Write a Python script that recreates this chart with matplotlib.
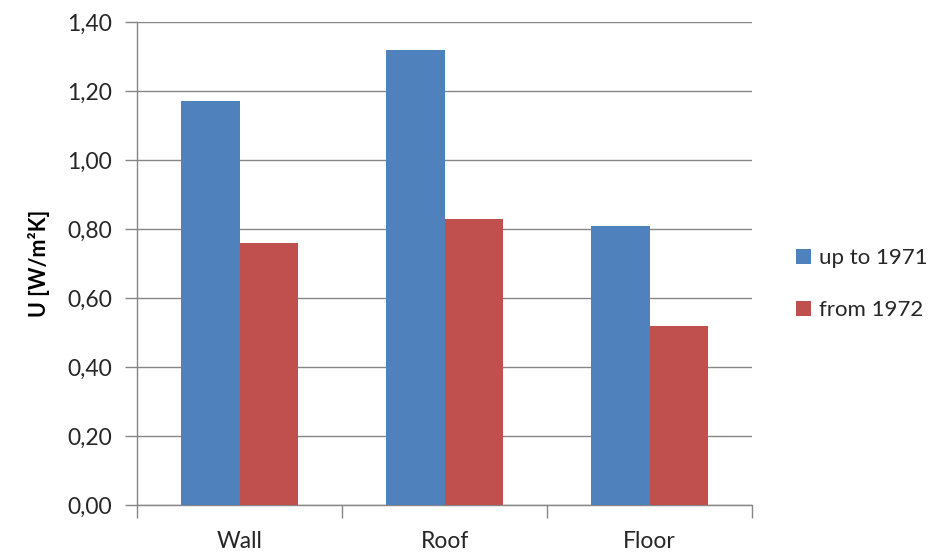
import matplotlib
matplotlib.use("Agg")
import matplotlib.pyplot as plt
from matplotlib.patches import Patch
from matplotlib.ticker import FuncFormatter, MultipleLocator
import numpy as np

categories = ["Wall", "Roof", "Floor"]
up_to_1971 = [1.17, 1.32, 0.81]
from_1972 = [0.76, 0.83, 0.52]
series_names = ["up to 1971", "from 1972"]
colors = ["#4F81BD", "#C0504D"]

plt.rcParams["font.family"] = ["Lato", "DejaVu Sans"]

fig = plt.figure(figsize=(9.35, 5.52), dpi=100)
ax = fig.add_axes([0.1465, 0.0851, 0.8575 - 0.1465 - 0.053, 0.960 - 0.0851])

x = np.arange(len(categories))
w = 1 / 3.5
ax.bar(x - w / 2, up_to_1971, width=w, color=colors[0], zorder=3)
ax.bar(x + w / 2, from_1972, width=w, color=colors[1], zorder=3)

ax.set_xlim(-0.5, len(categories) - 0.5)
ax.set_ylim(0, 1.40)
ax.yaxis.set_major_locator(MultipleLocator(0.2))
ax.yaxis.set_major_formatter(FuncFormatter(lambda v, p: f"{v:.2f}".replace(".", ",")))
ax.grid(axis="y", color="#868686", linewidth=1, zorder=0)

ax.set_xticks(np.arange(len(categories) + 1) - 0.5, minor=False)
ax.set_xticklabels([])
ax.set_xticks(x, minor=True)
ax.set_xticklabels(categories, minor=True)
ax.tick_params(axis="x", which="major", length=9, color="#868686", width=1)
ax.tick_params(axis="x", which="minor", length=0, pad=19, labelsize=16.5, labelcolor="#262626")
ax.tick_params(axis="y", length=9, color="#868686", width=1, pad=9, labelsize=16.5, labelcolor="#262626")

for s in ["top", "right"]:
    ax.spines[s].set_visible(False)
for s in ["left", "bottom"]:
    ax.spines[s].set_color("#868686")
    ax.spines[s].set_linewidth(1)

ax.set_ylabel("U [W/m²K]", fontsize=15.5, fontweight="bold", labelpad=12)

handles = [Patch(facecolor=c, edgecolor="none") for c in colors]
fig.legend(handles, series_names, loc="center left", bbox_to_anchor=(0.851, 0.485),
           borderaxespad=0, borderpad=0, frameon=False, fontsize=16,
           handlelength=0.7, handleheight=0.7, handletextpad=0.35,
           labelspacing=1.45, labelcolor="#262626")

fig.savefig("out.png", dpi=100)
